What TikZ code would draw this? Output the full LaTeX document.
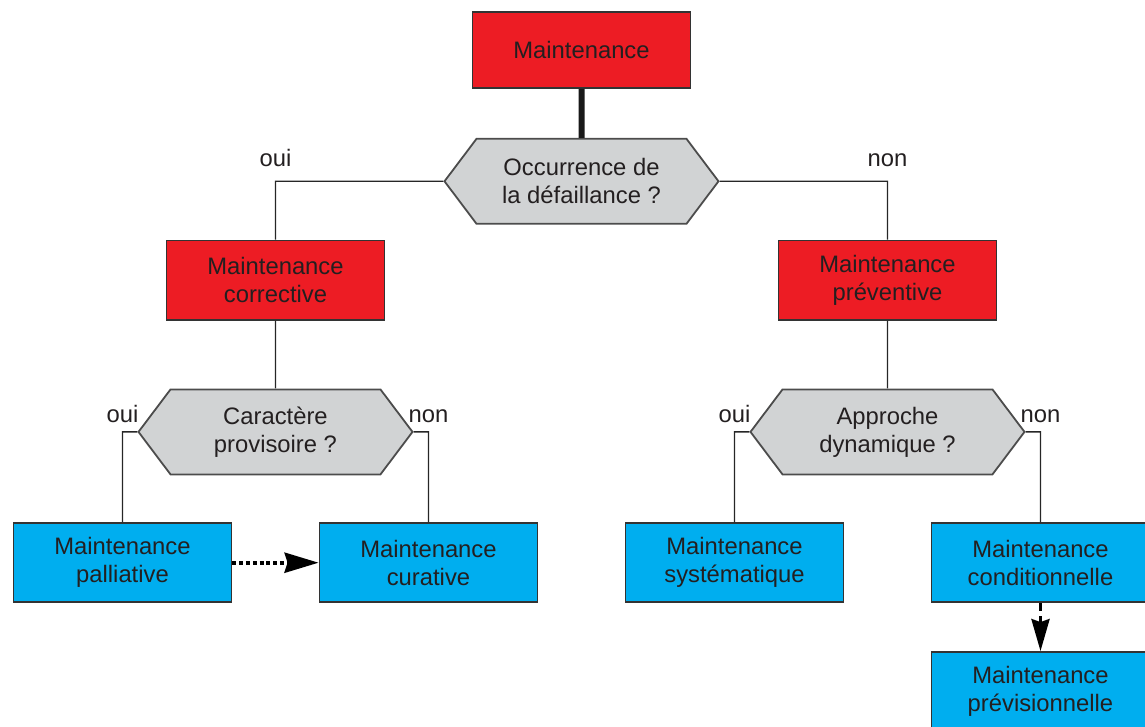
\documentclass[tikz,border=0pt]{standalone}
\usepackage{fontspec}
\setmainfont{Liberation Sans}
\usetikzlibrary{arrows.meta}
\usetikzlibrary{shapes.symbols}
\usetikzlibrary{positioning}

\definecolor{rouge}{HTML}{ED1C24}
\definecolor{bleu}{HTML}{00AEEF}
\definecolor{gris}{HTML}{D1D3D4}
\definecolor{encre}{HTML}{231F20}

\begin{document}
\begin{tikzpicture}[>={Stealth[length=17pt,width=10pt,inset=1.5pt]},
  text=encre,font=\fontsize{11.9pt}{14pt}\selectfont]

  \tikzstyle{family}=[rectangle,draw=black!80,line width=0.9pt,fill=rouge,
    minimum width=109pt,minimum height=39.5pt,align=center];
  \tikzstyle{question}=[signal,signal to=west and east,signal pointer angle=106,
    draw=black!70,line width=0.9pt,fill=gris,minimum width=137pt,
    minimum height=42.5pt,align=center];
  \tikzstyle{method}=[rectangle,draw=black!80,line width=0.9pt,fill=bleu,
    minimum width=109pt,minimum height=39.5pt,align=center];
  \tikzstyle{link}=[draw=black!85,line width=0.7pt];
  \tikzstyle{answer}=[inner sep=2pt];

  \useasboundingbox (-290.75pt,25pt) rectangle (281.75pt,-338.5pt);

  \node[family,minimum height=38pt] (maint) at (0,0) {Maintenance};
  \node[question] (occur) [below=24.5pt of maint] {Occurrence de\\la défaillance ?};
  \node[family]   (corr)  [below=7.5pt of occur,xshift=-153pt] {Maintenance\\corrective};
  \node[family]   (prev)  [below=7.5pt of occur,xshift=153pt] {Maintenance\\préventive};
  \node[question] (provi) [below=34pt of corr] {Caractère\\provisoire ?};
  \node[question] (dyna)  [below=34pt of prev] {Approche\\dynamique ?};
  \node[method]   (pall)  [below=23.5pt of provi,xshift=-76.5pt] {Maintenance\\palliative};
  \node[method]   (cura)  [below=23.5pt of provi,xshift=76.5pt] {Maintenance\\curative};
  \node[method]   (syst)  [below=23.5pt of dyna,xshift=-76.5pt] {Maintenance\\systématique};
  \node[method]   (cond)  [below=23.5pt of dyna,xshift=76.5pt] {Maintenance\\conditionnelle};
  \node[method]   (previ) [below=24pt of cond] {Maintenance\\prévisionnelle};

  \draw[line width=3pt,black!90] (maint) -- (occur);

  \path[link]
    (occur.west) -| node[answer,above=5pt] {oui} (corr)
    (occur.east) -| node[answer,above=5pt] {non} (prev)
    (corr) -- (provi)
    (prev) -- (dyna)
    (provi.west) -| node[answer,above=2pt] {oui} (pall)
    (provi.east) -| node[answer,above=2pt] {non} (cura)
    (dyna.west)  -| node[answer,above=2pt] {oui} (syst)
    (dyna.east)  -| node[answer,above=2pt] {non} (cond)
  ;

  \draw[->,line width=2pt,dash pattern=on 2pt off 1.4pt] (pall) -- (cura);
  \draw[->,line width=1.7pt,dash pattern=on 4pt off 2.5pt,
    >={Stealth[length=16pt,width=9pt,inset=1.5pt]}] (cond) -- (previ);

\end{tikzpicture}
\end{document}
